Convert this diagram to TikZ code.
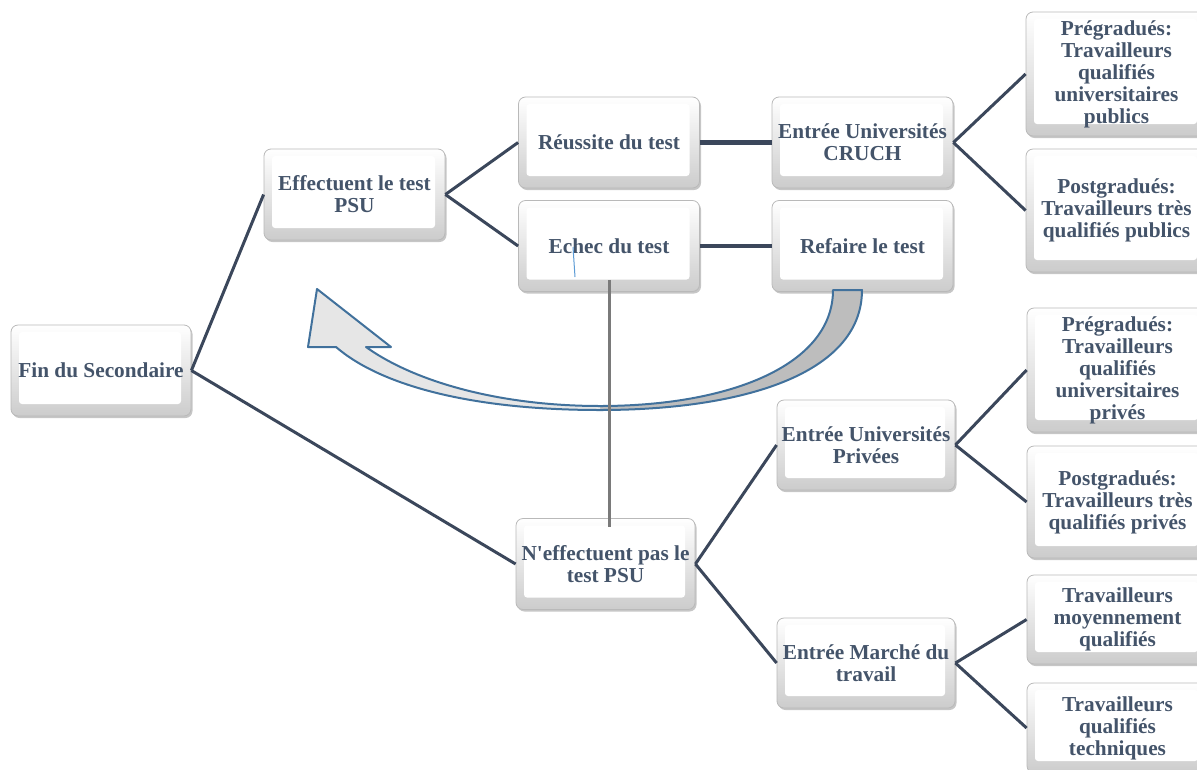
\documentclass[tikz,border=0pt]{standalone}
\usepackage{fontspec}
\setmainfont{Liberation Serif}
\usetikzlibrary{shadows}
\definecolor{txt}{HTML}{44546A}
\definecolor{conn}{HTML}{3B475B}
\definecolor{arrowblue}{HTML}{41719C}
\definecolor{lightfill}{HTML}{E6E6E6}
\definecolor{darkfill}{HTML}{BDBDBD}
\definecolor{strayblue}{HTML}{5B9BD5}
\definecolor{vgray}{HTML}{7A7A7A}
\tikzset{
  box/.style={rectangle, rounded corners=7pt, draw=gray!55, line width=0.8pt,
    top color=white, bottom color=gray!40, text=txt,
    font=\bfseries\fontsize{21.3}{22}\selectfont, align=center, inner sep=0pt,
    minimum width=181pt, minimum height=91pt,
    drop shadow={shadow xshift=1.5pt, shadow yshift=-2pt, opacity=0.45, fill=gray},
    path picture={\fill[white, rounded corners=3pt]
      ([xshift=8pt,yshift=12pt]path picture bounding box.south west) rectangle
      ([xshift=-10pt,yshift=-7pt]path picture bounding box.north east);}},
  link/.style={draw=conn, line width=3pt},
  bar/.style={draw=conn, line width=4.2pt},
  vline/.style={draw=vgray, line width=3pt},
  curvearrow/.style={draw=arrowblue, line width=2pt, line join=round},
}
\begin{document}
\begin{tikzpicture}[x=1pt,y=-1pt]
\useasboundingbox (0,0) rectangle (1197,769);

\node[box, minimum width=180pt] (fin) at (101,370.5) {Fin du Secondaire};
\node[box] (eff) at (354.5,194.5) {Effectuent le test\\PSU};
\node[box] (reu) at (609,142.5) {Réussite du test};
\node[box] (ech) at (609,246) {Echec du test};
\node[box] (cru) at (862.5,142.5) {Entrée Universités\\CRUCH};
\node[box] (ref) at (862.5,246) {Refaire le test};
\node[box, minimum width=179pt] (nef) at (605.5,564) {N\textquotesingle effectuent pas le\\test PSU};
\node[box, minimum width=178pt, minimum height=90pt] (pri) at (866,445) {Entrée Universités\\Privées};
\node[box, minimum width=178pt, minimum height=90pt] (mar) at (866,663) {Entrée Marché du\\travail};
\node[box, minimum height=124pt] (p1) at (1116.5,74) {Prégradués:\\Travailleurs\\qualifiés\\universitaires\\publics};
\node[box, minimum height=123pt] (p2) at (1116.5,210.5) {Postgradués:\\Travailleurs très\\qualifiés publics};
\node[box, minimum height=124pt] (p3) at (1117.5,370) {Prégradués:\\Travailleurs\\qualifiés\\universitaires\\privés};
\node[box, minimum height=112pt] (p4) at (1117.5,502) {Postgradués:\\Travailleurs très\\qualifiés privés};
\node[box, minimum height=89pt] (p5) at (1117.5,619.5) {Travailleurs\\moyennement\\qualifiés};
\node[box, minimum height=90pt] (p6) at (1117.5,728) {Travailleurs\\qualifiés\\techniques};

% tree connectors
\draw[link] (fin.east) -- (eff.west);
\draw[link] (fin.east) -- (nef.west);
\draw[link] (eff.east) -- (reu.west);
\draw[link] (eff.east) -- (ech.west);
\draw[bar] (reu.east) -- (cru.west);
\draw[bar] (ech.east) -- (ref.west);
\draw[link] (cru.east) -- (p1.west);
\draw[link] (cru.east) -- (p2.west);
\draw[link] (nef.east) -- (pri.west);
\draw[link] (nef.east) -- (mar.west);
\draw[link] (pri.east) -- (p3.west);
\draw[link] (pri.east) -- (p4.west);
\draw[link] (mar.east) -- (p5.west);
\draw[link] (mar.east) -- (p6.west);

% curved return arrow
\fill[darkfill] (600,410) .. controls (740,410) and (862,375) .. (862,290)
  -- (833,290) .. controls (833,365) and (730,406) .. (600,406) -- cycle;
\fill[lightfill] (600,410) .. controls (470,410) and (380,385) .. (336,347)
  -- (308,347) -- (317,289) -- (391,347) -- (366,347)
  .. controls (415,382) and (500,406) .. (600,406) -- cycle;
\draw[curvearrow] (862,290) .. controls (862,375) and (740,410) .. (600,410)
  .. controls (470,410) and (380,385) .. (336,347)
  -- (308,347) -- (317,289) -- (391,347) -- (366,347)
  .. controls (415,382) and (500,406) .. (600,406)
  .. controls (730,406) and (833,365) .. (833,290) -- cycle;

% vertical grey connector
\draw[vline] ([yshift=12pt]ech.south) -- ([yshift=-9pt]ech.south |- nef.north);

% stray thin blue mark
\draw[strayblue, line width=1pt] (573,247) -- (575,277);
\end{tikzpicture}
\end{document}
